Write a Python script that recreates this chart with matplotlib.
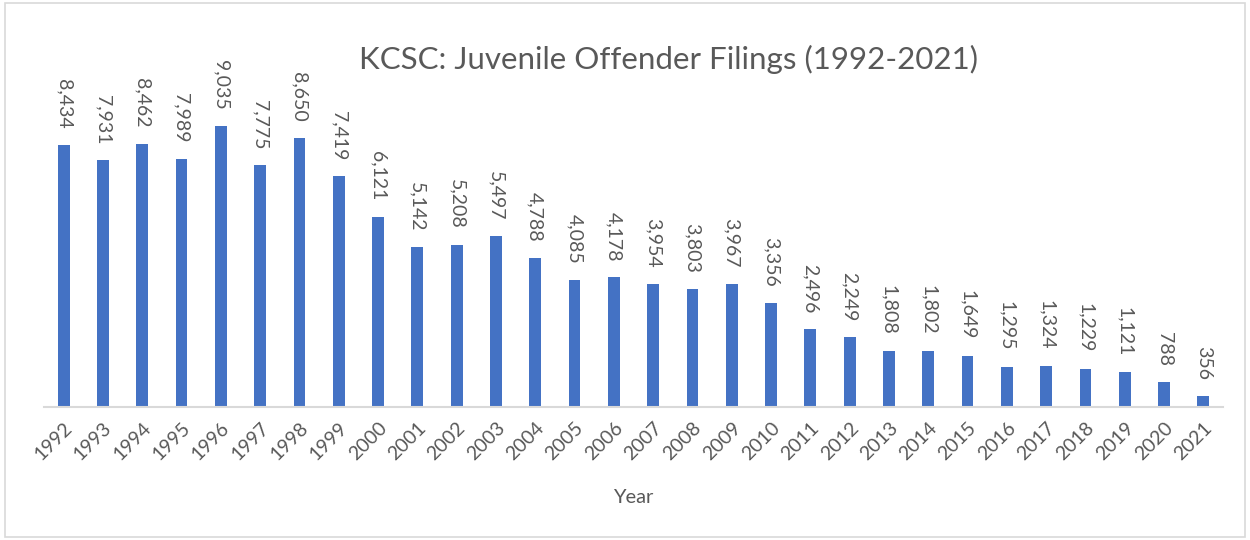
import matplotlib.pyplot as plt

years = [str(y) for y in range(1992, 2022)]
filings = [8434, 7931, 8462, 7989, 9035, 7775, 8650, 7419, 6121, 5142,
           5208, 5497, 4788, 4085, 4178, 3954, 3803, 3967, 3356, 2496,
           2249, 1808, 1802, 1649, 1295, 1324, 1229, 1121, 788, 356]

plt.rcParams['font.family'] = ['Lato', 'DejaVu Sans']
grey = '#595959'

fig = plt.figure(figsize=(12.5, 5.4), dpi=100)
# light frame round the whole chart
fig.patches.append(plt.Rectangle((0.004, 0.006), 0.992, 0.988, transform=fig.transFigure,
                                 fill=False, edgecolor='#d9d9d9', linewidth=1.2))

ax = fig.add_axes([44 / 1250, 133 / 540, 1179 / 1250, 347 / 540])
x = range(len(years))
ax.bar(x, filings, width=0.3, color='#4472C4')
ax.set_xlim(-0.5, len(years) - 0.5)
ax.set_ylim(0, 9035 * 347 / 281)

for i, v in enumerate(filings):
    ax.annotate(f'{v:,}', (i, v), xytext=(0, 16), textcoords='offset pixels',
                rotation=270, ha='center', va='bottom', fontsize=14, color=grey)

ax.set_xticks(list(x))
ax.set_xticklabels(years, rotation=45, ha='right', rotation_mode='anchor',
                   fontsize=14, color=grey)
ax.tick_params(axis='x', length=0, pad=9)
ax.set_yticks([])
for s in ['top', 'right', 'left']:
    ax.spines[s].set_visible(False)
ax.spines['bottom'].set_color('#d9d9d9')
ax.spines['bottom'].set_linewidth(1.5)

ax.set_xlabel('Year', fontsize=14.5, color=grey, labelpad=18)
fig.text(0.535, 0.89, 'KCSC: Juvenile Offender Filings (1992-2021)', ha='center',
         va='center', fontsize=22.5, color=grey)

fig.savefig('out.png', dpi=100)
